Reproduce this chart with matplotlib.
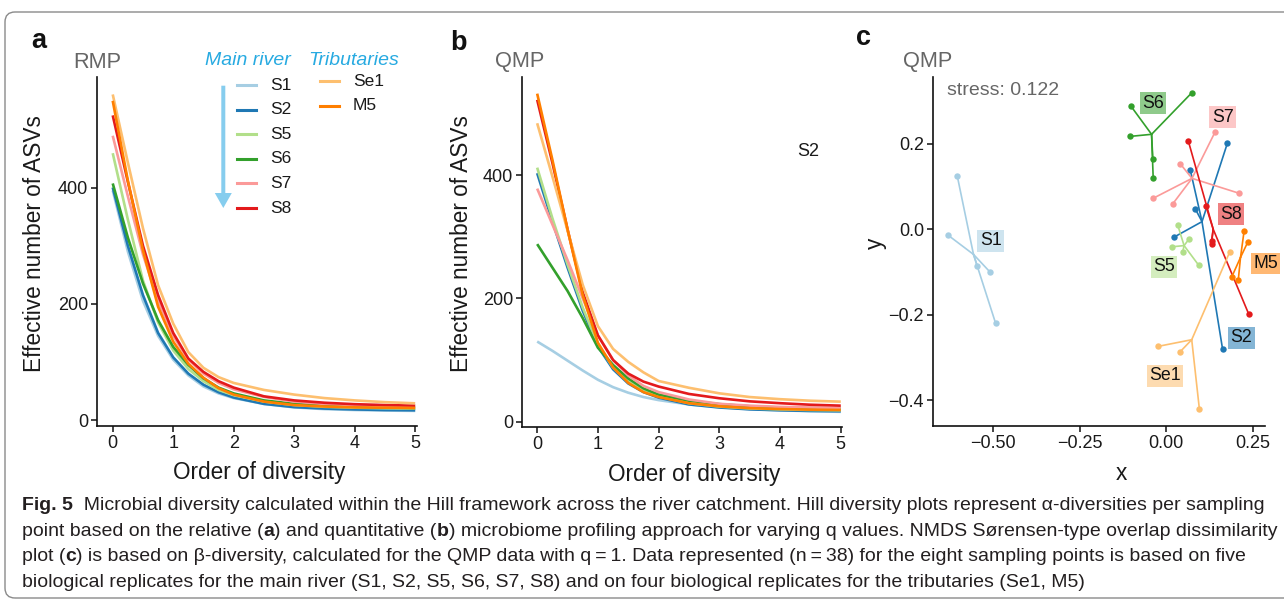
import matplotlib
matplotlib.use("Agg")
import matplotlib.pyplot as plt
from matplotlib import font_manager as fm
from matplotlib.patches import FancyBboxPatch, FancyArrow
from matplotlib.lines import Line2D
from matplotlib.transforms import IdentityTransform
import numpy as np


def has_font(name):
    try:
        fm.findfont(fm.FontProperties(family=name), fallback_to_default=False)
        return True
    except Exception:
        return False


BASE = "Liberation Sans" if has_font("Liberation Sans") else "DejaVu Sans"
CAP = "Liberation Sans Narrow" if has_font("Liberation Sans Narrow") else BASE
plt.rcParams["font.family"] = [BASE, "DejaVu Sans"]

# ---------------- data ----------------
sites = ["S1", "S2", "S5", "S6", "S7", "S8", "Se1", "M5"]
main_sites = ["S1", "S2", "S5", "S6", "S7", "S8"]
trib_sites = ["Se1", "M5"]
site_colors = ["#a6cee3", "#1f78b4", "#b2df8a", "#33a02c",
               "#fb9a99", "#e31a1c", "#fdbf6f", "#ff7f00"]

# order of diversity (q) at which values were read
q = [0, 0.25, 0.5, 0.75, 1, 1.25, 1.5, 1.75, 2, 2.5, 3, 3.5, 4, 4.5, 5]

# RMP Hill numbers
rmp_S1 = [395, 290, 205, 145, 104, 77, 58, 46, 38, 28, 22, 19, 17.5, 16.5, 16]
rmp_S2 = [400, 300, 215, 150, 108, 80, 61, 48, 39, 28, 22.5, 20, 18.5, 17.5, 17]
rmp_S5 = [459, 345, 240, 168, 120, 88, 67, 52, 43, 32, 26, 23, 21.5, 20.5, 20]
rmp_S6 = [407, 314, 235, 172, 126, 95, 72, 56, 46, 34, 28, 25, 23, 22, 21]
rmp_S7 = [489, 385, 285, 205, 145, 104, 80, 64, 53, 40, 32, 28, 26, 24.5, 23.5]
rmp_S8 = [524, 410, 300, 215, 150, 106, 83, 67, 56, 41, 34, 30, 27.5, 26, 25]
rmp_Se1 = [560, 443, 330, 232, 166, 117, 90, 74, 64, 52, 44, 38, 34, 31, 29]
rmp_M5 = [549, 412, 292, 195, 135, 97, 73, 55, 44, 32, 26, 23.5, 22, 21.5, 21]

# QMP Hill numbers
qmp_S1 = [130, 115, 99, 83, 68, 56, 47, 40, 35, 28, 23.5, 20.5, 18.5, 17, 16]
qmp_S2 = [403, 325, 250, 180, 122, 85, 62, 48, 39, 28, 23, 20, 18.5, 17.5, 17]
qmp_S5 = [412, 330, 255, 185, 125, 88, 65, 50, 41, 30, 24.5, 21.5, 20, 19, 18.5]
qmp_S6 = [288, 250, 212, 168, 120, 92, 70, 54, 44, 34, 28.5, 25, 23, 22, 21.5]
qmp_S7 = [378, 320, 262, 200, 140, 100, 75, 58, 48, 36, 29, 26, 24, 23, 22]
qmp_S8 = [522, 420, 312, 210, 140, 100, 78, 65, 57, 45, 38, 33, 30, 27.5, 26]
qmp_Se1 = [484, 398, 310, 222, 155, 118, 97, 80, 66, 55, 46, 40, 36.5, 34, 32.5]
qmp_M5 = [532, 425, 312, 205, 128, 88, 63, 48, 40, 30, 25, 22, 20.5, 19.5, 19]

# NMDS coordinates (QMP, q = 1)
nmds_S1_x = [-0.602, -0.630, -0.544, -0.509, -0.492]
nmds_S1_y = [0.124, -0.013, -0.087, -0.099, -0.219]
nmds_S2_x = [0.069, 0.176, 0.083, 0.023, 0.162]
nmds_S2_y = [0.138, 0.202, 0.048, -0.018, -0.281]
nmds_S5_x = [0.033, 0.066, 0.016, 0.047, 0.093]
nmds_S5_y = [0.009, -0.022, -0.041, -0.053, -0.084]
nmds_S6_x = [-0.103, 0.073, -0.106, -0.039, -0.038]
nmds_S6_y = [0.289, 0.319, 0.217, 0.164, 0.121]
nmds_S7_x = [0.140, 0.040, -0.039, 0.018, 0.210]
nmds_S7_y = [0.227, 0.153, 0.072, 0.059, 0.084]
nmds_S8_x = [0.063, 0.114, 0.130, 0.130, 0.237]
nmds_S8_y = [0.207, 0.054, -0.027, -0.035, -0.198]
nmds_Se1_x = [0.183, -0.025, 0.039, 0.095]
nmds_Se1_y = [-0.052, -0.274, -0.287, -0.420]
nmds_M5_x = [0.224, 0.235, 0.188, 0.207]
nmds_M5_y = [-0.003, -0.029, -0.112, -0.119]

# NMDS label anchor positions (data coords)
label_x = [-0.506, 0.216, -0.006, -0.039, 0.162, 0.186, -0.004, 0.286]
label_y = [-0.027, -0.254, -0.088, 0.295, 0.262, 0.035, -0.343, -0.080]
stress_value = 0.122

rmp = dict(zip(sites, [rmp_S1, rmp_S2, rmp_S5, rmp_S6, rmp_S7, rmp_S8, rmp_Se1, rmp_M5]))
qmp = dict(zip(sites, [qmp_S1, qmp_S2, qmp_S5, qmp_S6, qmp_S7, qmp_S8, qmp_Se1, qmp_M5]))
nx = dict(zip(sites, [nmds_S1_x, nmds_S2_x, nmds_S5_x, nmds_S6_x, nmds_S7_x, nmds_S8_x, nmds_Se1_x, nmds_M5_x]))
ny = dict(zip(sites, [nmds_S1_y, nmds_S2_y, nmds_S5_y, nmds_S6_y, nmds_S7_y, nmds_S8_y, nmds_Se1_y, nmds_M5_y]))
col = dict(zip(sites, site_colors))

# ---------------- layout helpers ----------------
W, H = 1284, 605
fig = plt.figure(figsize=(W / 100, H / 100), dpi=100)
fig.patch.set_facecolor("white")


def fx(x):
    return x / W


def fy(y):
    return 1 - y / H


INK = "#1a1a1a"
GREY = "#666666"


def make_axes(l, t, r, b):
    ax = fig.add_axes([fx(l), fy(b), (r - l) / W, (b - t) / H])
    for s in ("top", "right"):
        ax.spines[s].set_visible(False)
    for s in ("left", "bottom"):
        ax.spines[s].set_linewidth(1.2)
        ax.spines[s].set_color("#111111")
    ax.tick_params(direction="out", length=4, width=1.1, color="#111111",
                   labelsize=13, labelcolor=INK, pad=2.5)
    ax.patch.set_alpha(0)
    return ax


def place_labels(ax, xlabel, xpos, ylabel, ypos, size=16.3):
    ax.set_xlabel(xlabel, fontsize=size, color=INK)
    ax.set_ylabel(ylabel, fontsize=size, color=INK)
    ax.xaxis.set_label_coords(fx(xpos[0]), fy(xpos[1]), transform=fig.transFigure)
    ax.yaxis.set_label_coords(fx(ypos[0]), fy(ypos[1]), transform=fig.transFigure)
    ax.xaxis.label.set_va("center")
    ax.yaxis.label.set_va("center")
    ax.yaxis.label.set_ha("center")


# ---------------- panel a: RMP ----------------
axa = make_axes(97, 77, 417, 426)
for s in sites:
    axa.plot(q, rmp[s], color=col[s], lw=1.9, solid_capstyle="butt")
axa.set_xlim(-0.26, 5.03)
axa.set_ylim(-10, 590)
axa.set_xticks([0, 1, 2, 3, 4, 5])
axa.set_yticks([0, 200, 400])
place_labels(axa, "Order of diversity", (259, 473), "Effective number of ASVs", (35, 244))

# ---------------- panel b: QMP ----------------
axb = make_axes(522, 77, 842, 427)
for s in sites:
    axb.plot(q, qmp[s], color=col[s], lw=1.9, solid_capstyle="butt")
axb.set_xlim(-0.25, 5.02)
axb.set_ylim(-8.6, 559)
axb.set_xticks([0, 1, 2, 3, 4, 5])
axb.set_yticks([0, 200, 400])
place_labels(axb, "Order of diversity", (694, 474), "Effective number of ASVs", (462, 244))
fig.text(fx(808), fy(152), "S2", fontsize=13, color=INK, ha="center", va="center")

# ---------------- panel c: NMDS ----------------
axc = make_axes(933, 77, 1265, 426)
for i, s in enumerate(sites):
    xs, ys = nx[s], ny[s]
    cx, cy = float(np.mean(xs)), float(np.mean(ys))
    for xv, yv in zip(xs, ys):
        axc.plot([cx, xv], [cy, yv], color=col[s], lw=1.2, solid_capstyle="round")
    axc.plot(xs, ys, "o", ms=4.6, color=col[s], mec="none")
for i, s in enumerate(sites):
    axc.text(label_x[i], label_y[i], s, fontsize=12.8, color="#111111",
             ha="center", va="center",
             bbox=dict(boxstyle="square,pad=0.13", fc=col[s], alpha=0.55, ec="none"))
axc.set_xlim(-0.672, 0.284)
axc.set_ylim(-0.46, 0.356)
axc.set_xticks([-0.5, -0.25, 0, 0.25])
axc.set_yticks([-0.4, -0.2, 0, 0.2])
place_labels(axc, "x", (1121, 474), "y", (875, 243))
fig.text(fx(947), fy(95), "stress: %.3f" % stress_value, fontsize=14, color=GREY,
         ha="left", va="baseline")

# ---------------- titles, panel letters ----------------
for txt, x in (("RMP", 73), ("QMP", 495), ("QMP", 903)):
    fig.text(fx(x), fy(67.5), txt, fontsize=15.7, color=GREY, ha="left", va="baseline")
for txt, x, y in (("a", 31, 48.5), ("b", 450, 50), ("c", 856, 45)):
    fig.text(fx(x), fy(y), txt, fontsize=19.5, fontweight="bold", color="#111111",
             ha="left", va="baseline")

# ---------------- legend (panel a) ----------------
LEG_BLUE = "#27aae1"
fig.text(fx(205), fy(65), "Main river", fontsize=14, style="italic", color=LEG_BLUE,
         ha="left", va="baseline")
fig.text(fx(308), fy(65), "Tributaries", fontsize=14, style="italic", color=LEG_BLUE,
         ha="left", va="baseline")
for i, s in enumerate(main_sites):
    yy = 85 + i * 24.6
    fig.add_artist(Line2D([fx(237), fx(256)], [fy(yy), fy(yy)], transform=fig.transFigure,
                          color=col[s], lw=2.2))
    fig.text(fx(270), fy(yy), s, fontsize=12.5, color=INK, ha="left", va="center")
for i, s in enumerate(trib_sites):
    yy = 81 + i * 24.6
    fig.add_artist(Line2D([fx(320), fx(339)], [fy(yy), fy(yy)], transform=fig.transFigure,
                          color=col[s], lw=2.2))
    fig.text(fx(353), fy(yy), s, fontsize=12.5, color=INK, ha="left", va="center")
fig.add_artist(FancyArrow(fx(223.3), fy(85.7), 0, -(208 - 85.7) / H,
                          width=4 / W, head_width=17 / W, head_length=15 / H,
                          length_includes_head=True, transform=fig.transFigure,
                          color="#86cdee", ec="none"))

# ---------------- frame ----------------
frame = FancyBboxPatch((5, H - 598), 1400, 598 - 12,
                       boxstyle="round,pad=0,rounding_size=10",
                       transform=IdentityTransform(), fill=False,
                       ec="#8a8a8a", lw=1.0)
fig.add_artist(frame)

# ---------------- caption ----------------
cap_lines = [
    [("Fig. 5", "bold"),
     ("  Microbial diversity calculated within the Hill framework across the river catchment. "
      "Hill diversity plots represent \u03b1-diversities per sampling", "normal")],
    [("point based on the relative (", "normal"), ("a", "bold"),
     (") and quantitative (", "normal"), ("b", "bold"),
     (") microbiome profiling approach for varying q values. NMDS S\u00f8rensen-type overlap dissimilarity",
      "normal")],
    [("plot (", "normal"), ("c", "bold"),
     (") is based on \u03b2-diversity, calculated for the QMP data with q\u2009=\u20091. Data represented "
      "(n\u2009=\u200938) for the eight sampling points is based on five", "normal")],
    [("biological replicates for the main river (S1, S2, S5, S6, S7, S8) and on four biological "
      "replicates for the tributaries (Se1, M5)", "normal")],
]
renderer = fig.canvas.get_renderer()
CAP_FAMILY = [CAP, "DejaVu Sans"]


def draw_runs(runs, x0, y, size, keep=True):
    x = x0
    made = []
    for s, w in runs:
        t = fig.text(x / W, fy(y), s, fontsize=size, fontweight=w, family=CAP_FAMILY,
                     ha="left", va="baseline", color="#231f20")
        x += t.get_window_extent(renderer).width
        made.append(t)
    if not keep:
        for t in made:
            t.remove()
    return x - x0


base_w = draw_runs(cap_lines[0], 22, 510, 10, keep=False)
cap_size = 10 * 1240 / base_w
for i, runs in enumerate(cap_lines):
    draw_runs(runs, 22, 510 + i * 25.7, cap_size)

fig.savefig("out.png", dpi=100, facecolor="white")
